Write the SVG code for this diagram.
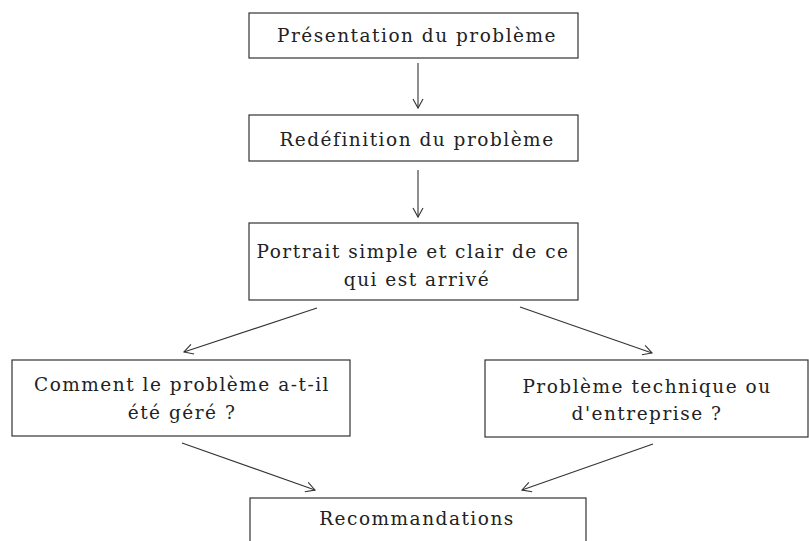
<svg xmlns="http://www.w3.org/2000/svg" width="809" height="541" viewBox="0 0 809 541">
<defs>
<marker id="v" markerWidth="12" markerHeight="12" refX="10" refY="6" orient="auto" markerUnits="userSpaceOnUse">
<path d="M1,1 L10,6 L1,11" fill="none" stroke="#333" stroke-width="1.1"/>
</marker>
<style>
.box{fill:#fff;stroke:#333;stroke-width:1.2}
.t{font-family:"DejaVu Serif","Liberation Serif",serif;font-size:18.5px;letter-spacing:1.5px;fill:#222;text-anchor:middle}
.c{stroke:#333;stroke-width:1.1;fill:none;marker-end:url(#v)}
</style>
</defs>
<rect width="809" height="541" fill="#fff"/>
<g id="n1"><rect class="box" x="249" y="13" width="329" height="45"/><text class="t" x="417" y="42">Présentation du problème</text></g>
<g id="n2"><rect class="box" x="249" y="115" width="329" height="46"/><text class="t" x="417" y="146">Redéfinition du problème</text></g>
<g id="n3"><rect class="box" x="249" y="223" width="329" height="77"/><text class="t" x="413" y="258">Portrait simple et clair de ce</text><text class="t" x="417" y="286">qui est arrivé</text></g>
<g id="n4"><rect class="box" x="12" y="360" width="338" height="76"/><text class="t" x="182" y="391">Comment le problème a-t-il</text><text class="t" x="182" y="419">été géré ?</text></g>
<g id="n5"><rect class="box" x="485" y="360" width="323" height="77"/><text class="t" x="647" y="393">Problème technique ou</text><text class="t" x="647" y="420">d'entreprise ?</text></g>
<g id="n6"><rect class="box" x="250" y="498" width="336" height="60"/><text class="t" x="417" y="525">Recommandations</text></g>
<g id="connectors">
<line class="c" x1="418" y1="63" x2="418" y2="108"/>
<line class="c" x1="418" y1="170" x2="418" y2="217"/>
<line class="c" x1="317" y1="308" x2="184" y2="352"/>
<line class="c" x1="520" y1="307" x2="652" y2="353"/>
<line class="c" x1="182" y1="443" x2="315" y2="490"/>
<line class="c" x1="653" y1="444" x2="522" y2="490"/>
</g>
</svg>
